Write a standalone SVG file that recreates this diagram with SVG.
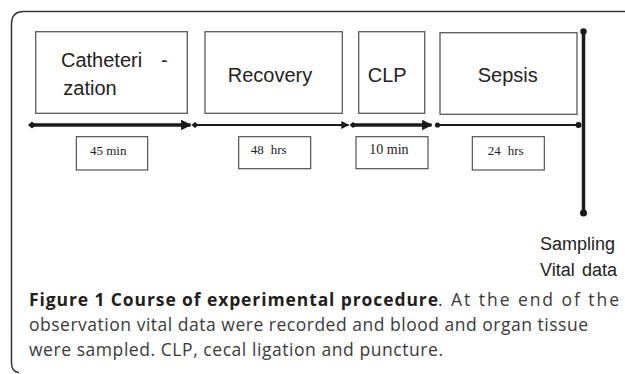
<svg xmlns="http://www.w3.org/2000/svg" width="625" height="374" viewBox="0 0 625 374">
  <style>
    .box { fill: #ffffff; stroke: #5a5a5a; stroke-width: 1.3; }
    .sbox { fill: #ffffff; stroke: #444444; stroke-width: 1.1; }
    .lbl { font-family: "Liberation Sans", Arial, sans-serif; font-size: 20px; fill: #222222; }
    .dur { font-family: "Liberation Serif", "Times New Roman", serif; font-size: 13px; fill: #222222; }
    .side { font-family: "Liberation Sans", Arial, sans-serif; font-size: 18px; fill: #222222; }
    .cap { font-family: "Open Sans", "Noto Sans", sans-serif; font-size: 17.5px; fill: #3a3a3a; }
    .capb { font-weight: bold; fill: #231f20; }
    .thick { stroke: #1a1a1a; stroke-width: 3.5; fill: none; }
    .thin { stroke: #1a1a1a; stroke-width: 2; fill: none; }
    .dot { fill: #1a1a1a; }
  </style>
  <defs>
    <marker id="arrow" viewBox="0 0 10 10" refX="9" refY="5" markerWidth="3" markerHeight="3" orient="auto" markerUnits="strokeWidth">
      <path d="M0,0 L10,5 L0,10 z" fill="#1a1a1a"/>
    </marker>
    <marker id="arrowThin" viewBox="0 0 10 10" refX="9" refY="5" markerWidth="4.5" markerHeight="4" orient="auto" markerUnits="strokeWidth">
      <path d="M0,0 L10,5 L0,10 z" fill="#1a1a1a"/>
    </marker>
  </defs>

  <path d="M625,11.5 L24,11.5 Q11.5,11.5 11.5,24 L11.5,363 Q11.5,372 19,372.5" fill="none" stroke="#333333" stroke-width="1.5"/>

  <g id="node-catheterization">
    <rect class="box" x="35.7" y="31.7" width="151.6" height="81.6"/>
    <text class="lbl" x="61" y="66.7">Catheteri<tspan x="161">-</tspan></text>
    <text class="lbl" x="63.3" y="95">zation</text>
  </g>
  <g id="node-recovery">
    <rect class="box" x="205" y="31.7" width="137.3" height="81.6"/>
    <text class="lbl" x="227.7" y="81.7">Recovery</text>
  </g>
  <g id="node-clp">
    <rect class="box" x="358.7" y="31.7" width="66" height="81.6"/>
    <text class="lbl" x="367.7" y="81.7">CLP</text>
  </g>
  <g id="node-sepsis">
    <rect class="box" x="440" y="32.7" width="137" height="81.6"/>
    <text class="lbl" x="477.7" y="81.7">Sepsis</text>
  </g>

  <g id="node-45min">
    <rect class="sbox" x="76.3" y="136.7" width="71.4" height="33.3"/>
    <text class="dur" x="90" y="155">45 min</text>
  </g>
  <g id="node-48hrs">
    <rect class="sbox" x="238.7" y="136.7" width="72" height="32"/>
    <text class="dur" x="250.7" y="154">48<tspan x="270.7">hrs</tspan></text>
  </g>
  <g id="node-10min">
    <rect class="sbox" x="356" y="136.7" width="72" height="32"/>
    <text class="dur" x="369.3" y="153.5" style="font-size:14px">10 min</text>
  </g>
  <g id="node-24hrs">
    <rect class="sbox" x="472.3" y="136.7" width="72" height="33.3"/>
    <text class="dur" x="487.7" y="155">24<tspan x="507.7">hrs</tspan></text>
  </g>

  <g id="node-sampling">
    <text class="side" x="540" y="250">Sampling</text>
    <text class="side" x="540" y="276">Vital<tspan x="582">data</tspan></text>
  </g>

  <g id="connectors">
    <line class="thick" x1="32" y1="125" x2="190.5" y2="125" marker-end="url(#arrow)"/>
    <path class="dot" d="M28,125 L32,121.5 L36,125 L32,128.5 z"/>
    <line class="thin" x1="195" y1="125" x2="348.5" y2="125" marker-end="url(#arrowThin)"/>
    <path class="dot" d="M191.5,125 L195,122 L198.5,125 L195,128 z"/>
    <line class="thick" x1="353" y1="125" x2="431.5" y2="125" marker-end="url(#arrow)"/>
    <path class="dot" d="M349.5,125 L353,122 L356.5,125 L353,128 z"/>
    <line class="thin" x1="437" y1="125" x2="580" y2="125"/>
    <circle class="dot" cx="437.5" cy="125" r="2.6"/>
    <circle class="dot" cx="578.5" cy="125" r="3"/>
    <line class="thick" x1="583.5" y1="31.7" x2="583.5" y2="213"/>
    <circle class="dot" cx="583.5" cy="31.5" r="3.2"/>
    <circle class="dot" cx="583.5" cy="213" r="3.5"/>
  </g>

  <g id="caption">
    <text class="cap capb" x="29" y="306" textLength="409" lengthAdjust="spacing">Figure 1 Course of experimental procedure</text>
    <text class="cap" x="438" y="306" textLength="181" lengthAdjust="spacing">. At the end of the</text>
    <text class="cap" x="29" y="331" textLength="559" lengthAdjust="spacing">observation vital data were recorded and blood and organ tissue</text>
    <text class="cap" x="29" y="356" textLength="414" lengthAdjust="spacing">were sampled. CLP, cecal ligation and puncture.</text>
  </g>
</svg>
